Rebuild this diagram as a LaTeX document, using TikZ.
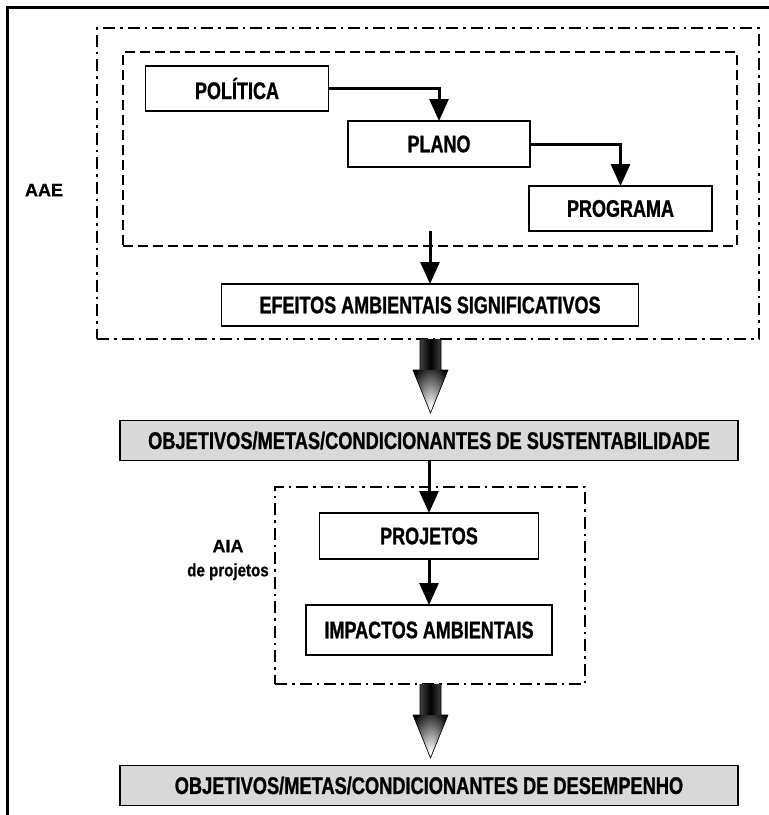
\documentclass[tikz,border=0pt]{standalone}
\usepackage{fontspec}
\setmainfont{Liberation Sans}[BoldFeatures={FakeBold=0.6}]
\newfontfamily\boxfont{Liberation Sans}[FakeStretch=0.75, BoldFeatures={FakeBold=1}]
\newfontfamily\barfont{Liberation Sans}[FakeStretch=0.76, BoldFeatures={FakeBold=1}]
\newfontfamily\tagnarrow{Liberation Sans}[FakeStretch=0.84, BoldFeatures={FakeBold=0.6}]
\usetikzlibrary{arrows.meta}

\begin{document}
\begin{tikzpicture}[x=1pt,y=-1pt,
  stage/.style={draw=black, line width=1.8pt, fill=white, inner sep=0pt, outer sep=0pt,
    font=\boxfont\bfseries\fontsize{24}{26}\selectfont},
  bar/.style={draw=black, line width=1.8pt, fill=black!15, minimum width=618pt,
    minimum height=40pt, inner sep=0pt, outer sep=0pt,
    font=\barfont\bfseries\fontsize{24}{26}\selectfont},
  flow/.style={line width=3pt, -{Triangle[length=22pt,width=19pt]}},
  dashdot frame/.style={draw=black, line width=2pt, inner sep=0pt, outer sep=0pt,
    dash pattern=on 12pt off 5pt on 2.5pt off 5pt},
  dash frame/.style={draw=black, line width=1.8pt, inner sep=0pt, outer sep=0pt,
    dash pattern=on 10pt off 5pt},
  tag/.style={font=\bfseries\fontsize{18}{24}\selectfont, align=center},
  bigdown/.pic={
    % shaft: black, slightly lighter at the edges
    \shade[left color=black!75, right color=black!75, middle color=black]
      (-10.5,0) rectangle (10.5,31.5);
    % head: black base with a light glow towards the tip
    \fill[black] (-17.5,31) -- (17.5,31) -- (0,74) -- cycle;
    \begin{scope}
      \clip (-17.5,31) -- (17.5,31) -- (0,74) -- cycle;
      \shade[inner color=white, outer color=black] (0,68) ellipse (24pt and 46pt);
    \end{scope}
    \draw[line width=0.6pt, line join=miter]
      (-10.5,0) -- (-10.5,31) -- (-17.5,31) -- (0,74) -- (17.5,31) -- (10.5,31) -- (10.5,0);
  }
]
\useasboundingbox (0,0) rectangle (769,815);

% page frame (top and left rules)
\draw[line width=3pt] (7,815) -- (7,7) -- (769,7);

% grouping frames
\node[dashdot frame, minimum width=662pt, minimum height=311pt] (aae) at (428,183.5) {};
\node[dash frame, minimum width=614pt, minimum height=194pt] (ppp) at (430,149) {};
\node[dashdot frame, minimum width=310pt, minimum height=197pt] (aia) at (430,585.5) {};

% stages
\node[stage, minimum width=183pt, minimum height=45pt] (pol) at (237,88.5) {POLÍTICA};
\node[stage, minimum width=182pt, minimum height=46pt] (plano) at (439,144) {PLANO};
\node[stage, minimum width=183pt, minimum height=45pt] (prog) at (620.5,208.5) {PROGRAMA};
\node[stage, minimum width=417pt, minimum height=42pt] (efeitos) at (430,305) {EFEITOS AMBIENTAIS SIGNIFICATIVOS};
\node[bar] (sust) at (429,440.5) {OBJETIVOS/METAS/CONDICIONANTES DE SUSTENTABILIDADE};
\node[stage, minimum width=219pt, minimum height=46pt] (proj) at (429,536) {PROJETOS};
\node[stage, minimum width=246pt, minimum height=50pt] (imp) at (429,630) {IMPACTOS AMBIENTAIS};
\node[bar] (desemp) at (429,785.5) {OBJETIVOS/METAS/CONDICIONANTES DE DESEMPENHO};

% side labels
\node[tag] (aaelbl) at (44,190) {AAE};
\node[tag] (aialbl) at (228,560) {AIA\\{\tagnarrow\bfseries de projetos}};

% connectors
\draw[flow] (pol.east) -| (plano.north);
\draw[flow] (plano.east) -| (prog.north);
\coordinate (effStart) at (430,231);
\draw[flow] (effStart) -- (efeitos.north);
\draw[flow] (sust.south) -- (proj.north);
\draw[flow] (proj.south) -- (imp.north);

% broad shaded arrows between the stages
\coordinate (big1) at (430.5,339);
\coordinate (big2) at (430.5,684);
\pic at (big1) {bigdown};
\pic at (big2) {bigdown};
\end{tikzpicture}
\end{document}
